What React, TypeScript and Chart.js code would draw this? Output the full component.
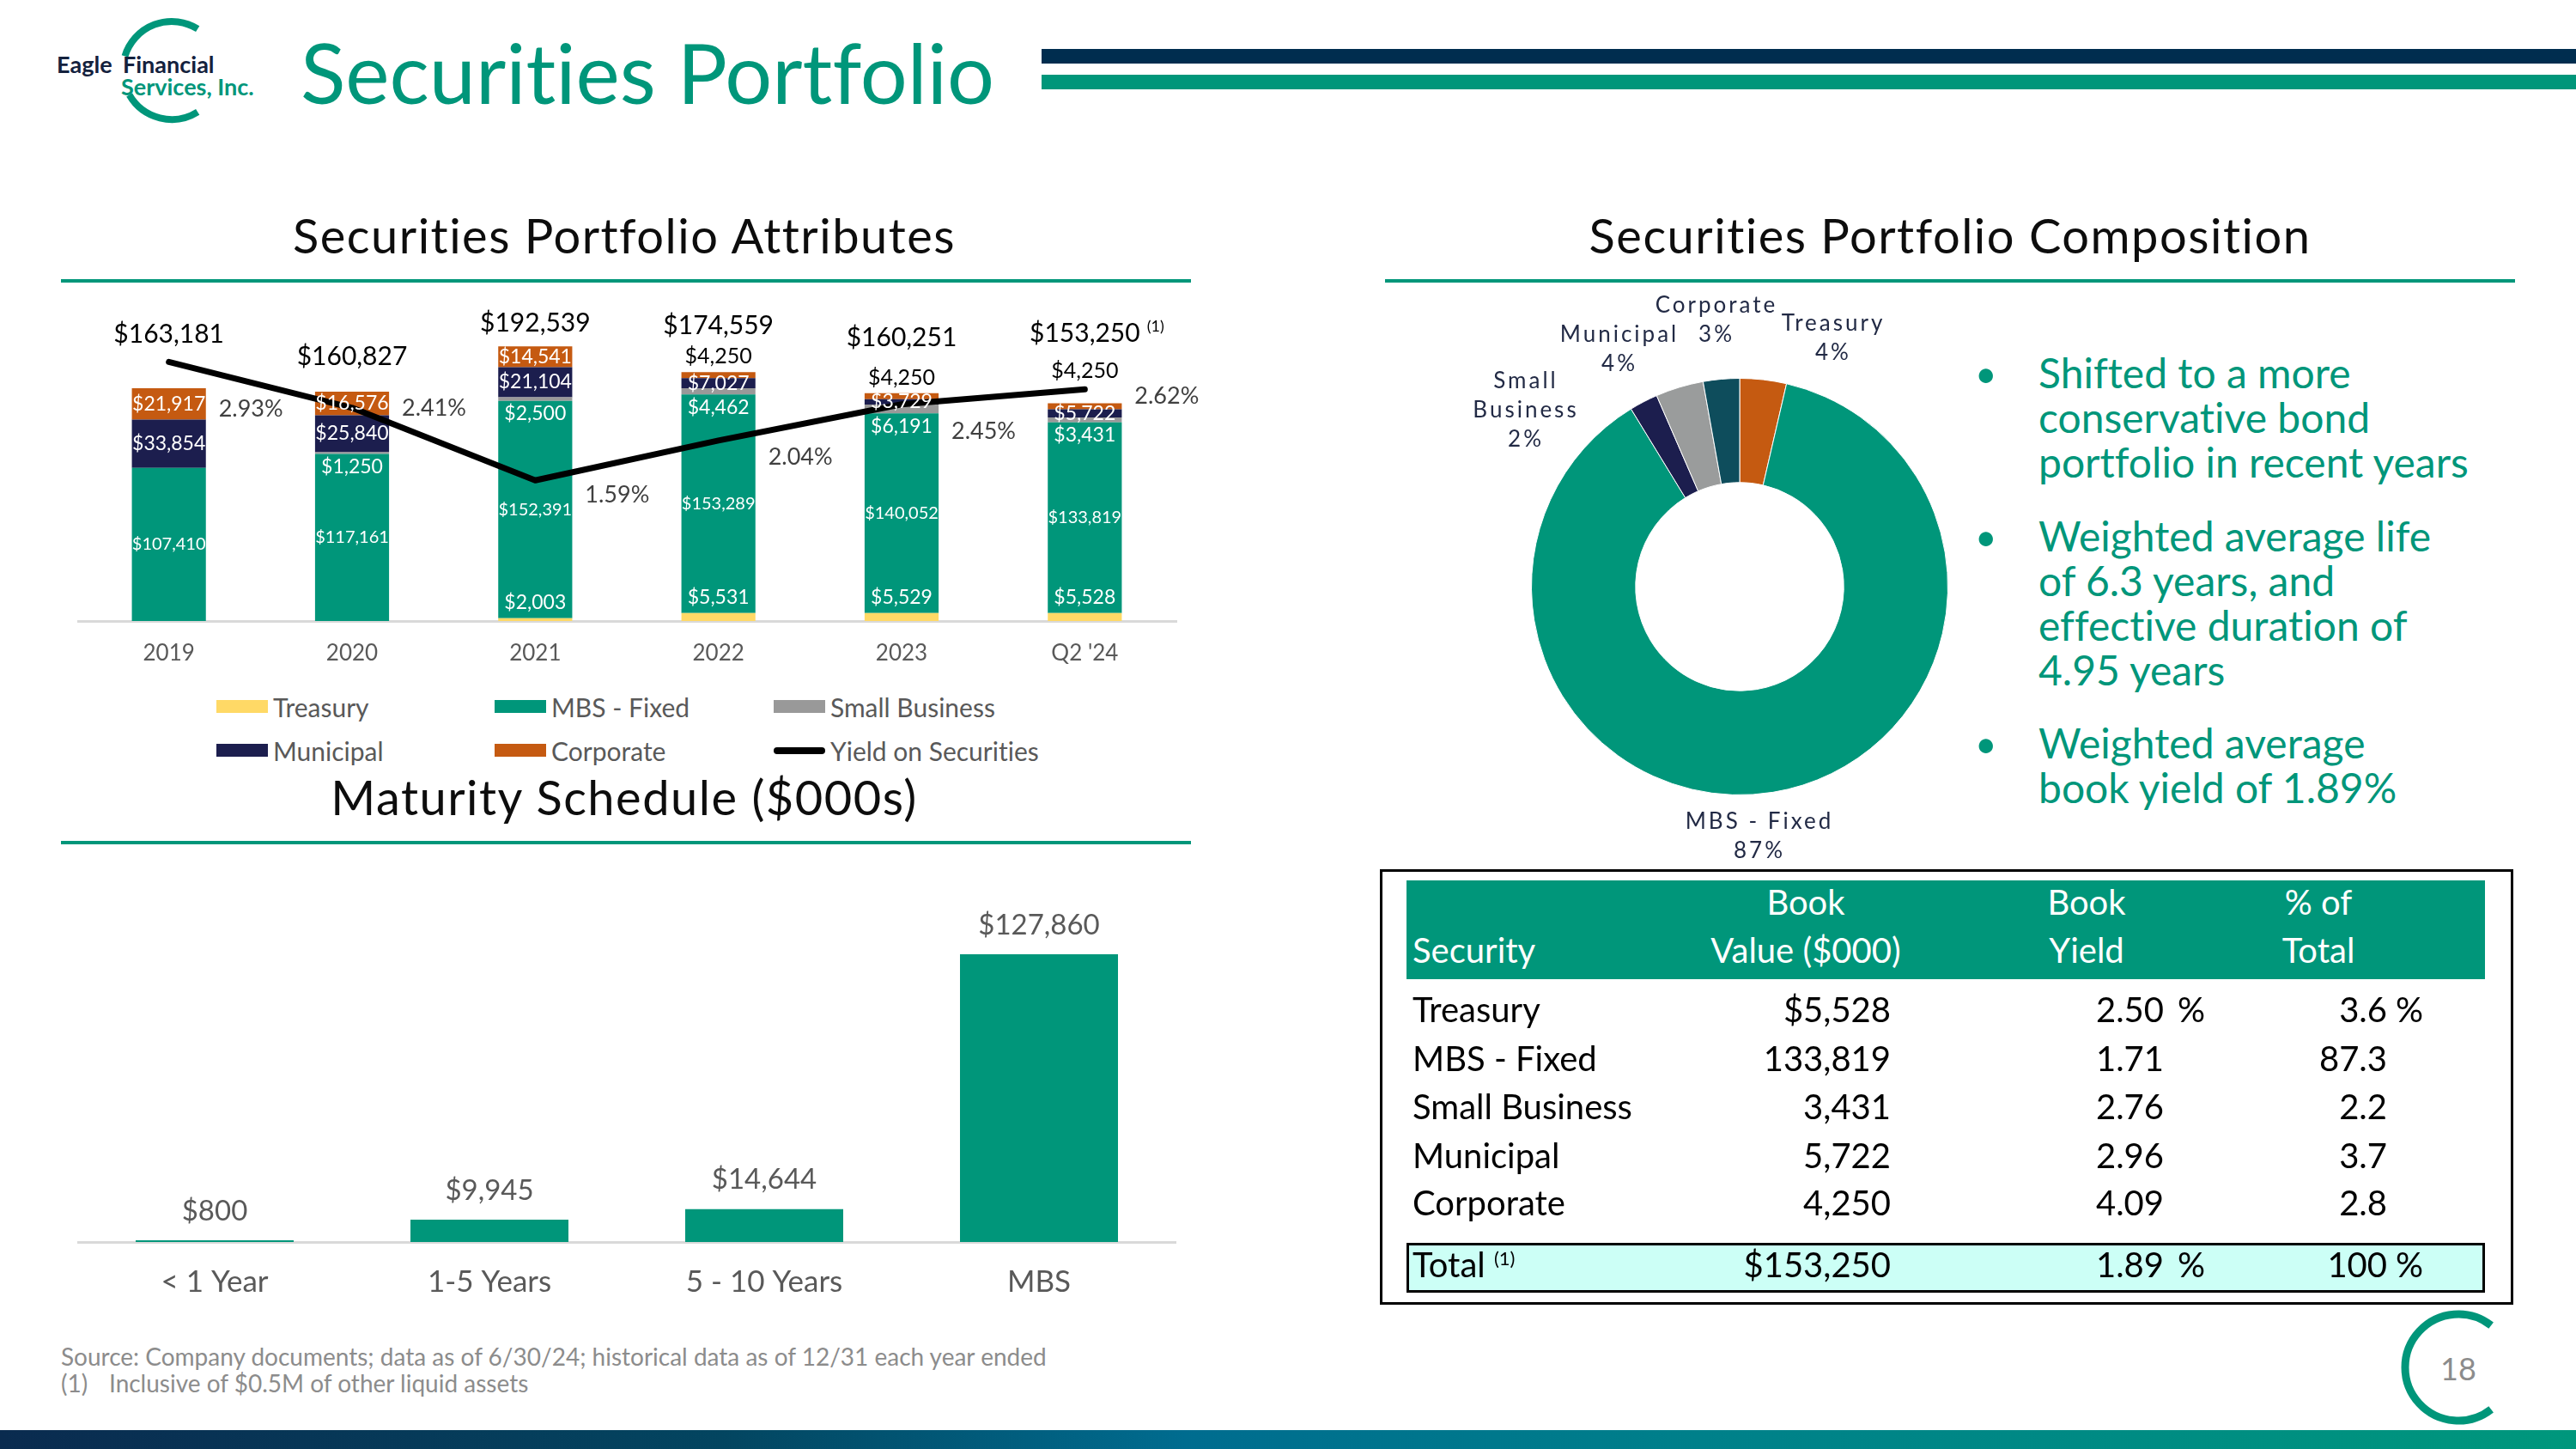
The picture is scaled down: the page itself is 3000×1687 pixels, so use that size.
import React, { useEffect, useRef } from 'react';
import { Chart, registerables } from 'chart.js';

Chart.register(...registerables);

const FONT = 'Lato, "Open Sans", "DejaVu Sans", sans-serif';
const GREEN = '#00967A';
const NAVY = '#1C1E4E';
const ORANGE = '#C55A11';
const YELLOW = '#FFD966';
const GRAY = '#999999';
const DARK_TEAL = '#0E4D5C';
const AXIS_GRAY = '#D9D9D9';
const LABEL_GRAY = '#595959';

// ---- Securities Portfolio Attributes ($000s) ----
const years = ['2019', '2020', '2021', '2022', '2023', "Q2 '24"];
const treasury = [0, 0, 2003, 5531, 5529, 5528];
const mbsFixed = [107410, 117161, 152391, 153289, 140052, 133819];
const smallBusiness = [0, 1250, 2500, 4462, 6191, 3431];
const municipal = [33854, 25840, 21104, 7027, 3729, 5722];
const corporate = [21917, 16576, 14541, 4250, 4250, 4250];
const portfolioTotals = [163181, 160827, 192539, 174559, 160251, 153250];
const totalNotes = ['', '', '', '', '', '(1)'];
const yieldOnSecurities = [2.93, 2.41, 1.59, 2.04, 2.45, 2.62];

// label placement tweaks (pixels)
const totalLabelLift = [63, 41, 27, 54, 64, 81];
const corporateLabelLift = [18, 18, 18, 18, 18, 37];
const yieldLabelDrop = [55, 0, 17, 19, 32, 8];

// ---- Maturity Schedule ($000s) ----
const maturityBuckets = ['< 1 Year', '1-5 Years', '5 - 10 Years', 'MBS'];
const maturityValues = [800, 9945, 14644, 127860];

// ---- Composition (Q2 '24) ----
const securities = ['Treasury', 'MBS - Fixed', 'Small Business', 'Municipal', 'Corporate'];
const bookValues = [5528, 133819, 3431, 5722, 4250];
const bookYields = [2.5, 1.71, 2.76, 2.96, 4.09];
const pctOfTotal = [3.6, 87.3, 2.2, 3.7, 2.8];
const totalBookValue = 153250;
const totalBookYield = 1.89;
const totalPct = 100;
const donutColors = [ORANGE, GREEN, NAVY, '#9A9C9C', DARK_TEAL];

const fmt = (v: number) => v.toLocaleString('en-US');
const money = (v: number) => '$' + fmt(v);

type Align = 'l' | 'c' | 'r';
interface TxtProps {
  x: number;
  y: number;
  size: number;
  align?: Align;
  color?: string;
  weight?: number;
  style?: React.CSSProperties;
  children: React.ReactNode;
}

function Txt({ x, y, size, align = 'l', color = '#000', weight = 400, style, children }: TxtProps) {
  const tx = align === 'l' ? '0' : align === 'c' ? '-50%' : '-100%';
  return (
    <div
      style={{
        position: 'absolute',
        left: x,
        top: y,
        transform: `translate(${tx}, -50%)`,
        fontSize: size,
        color,
        fontWeight: weight,
        lineHeight: 1.2,
        whiteSpace: 'nowrap',
        textAlign: align === 'l' ? 'left' : align === 'c' ? 'center' : 'right',
        ...style,
      }}
    >
      {children}
    </div>
  );
}

function Rect({ x, y, w, h, bg, style }: { x: number; y: number; w: number; h: number; bg: string; style?: React.CSSProperties }) {
  return <div style={{ position: 'absolute', left: x, top: y, width: w, height: h, background: bg, ...style }} />;
}

const attributeLabels = {
  id: 'attributeLabels',
  afterDatasetsDraw(chart: any) {
    const ctx = chart.ctx as CanvasRenderingContext2D;
    ctx.save();
    ctx.textAlign = 'center';
    ctx.textBaseline = 'middle';
    const bars = (i: number) => chart.getDatasetMeta(i).data as any[];
    const tre = bars(1), mbs = bars(2), sb = bars(3), mun = bars(4), cor = bars(5);
    const big = `23px ${FONT}`;
    for (let j = 0; j < years.length; j++) {
      ctx.fillStyle = '#FFFFFF';
      if (treasury[j] > 0) {
        ctx.font = big;
        ctx.fillText(money(treasury[j]), tre[j].x, tre[j].y - 18);
      }
      ctx.font = `20px ${FONT}`;
      ctx.fillText(money(mbsFixed[j]), mbs[j].x, (mbs[j].y + mbs[j].base) / 2);
      ctx.font = big;
      if (smallBusiness[j] > 0) {
        ctx.fillText(money(smallBusiness[j]), sb[j].x, sb[j].base + 15);
      }
      ctx.fillText(money(municipal[j]), mun[j].x, (mun[j].y + mun[j].base) / 2);
      const corH = cor[j].base - cor[j].y;
      if (corH >= 16) {
        ctx.fillText(money(corporate[j]), cor[j].x, (cor[j].y + cor[j].base) / 2);
      } else {
        ctx.fillStyle = '#000000';
        ctx.font = `25px ${FONT}`;
        ctx.fillText(money(corporate[j]), cor[j].x, cor[j].y - corporateLabelLift[j]);
      }
      // totals
      ctx.fillStyle = '#000000';
      ctx.font = `30px ${FONT}`;
      const ty = cor[j].y - totalLabelLift[j];
      const label = money(portfolioTotals[j]);
      ctx.fillText(label, cor[j].x, ty);
      if (totalNotes[j]) {
        const w = ctx.measureText(label).width;
        ctx.font = `18px ${FONT}`;
        ctx.textAlign = 'left';
        ctx.fillText(totalNotes[j], cor[j].x + w / 2 + 8, ty - 8);
        ctx.textAlign = 'center';
      }
    }
    // yield labels
    const pts = chart.getDatasetMeta(0).data as any[];
    ctx.textAlign = 'left';
    ctx.fillStyle = '#404040';
    ctx.font = `27px ${FONT}`;
    pts.forEach((p, j) => {
      ctx.fillText(yieldOnSecurities[j].toFixed(2) + '%', p.x + 58, p.y + yieldLabelDrop[j]);
    });
    ctx.restore();
  },
};

const maturityLabels = {
  id: 'maturityLabels',
  afterDatasetsDraw(chart: any) {
    const ctx = chart.ctx as CanvasRenderingContext2D;
    ctx.save();
    ctx.textAlign = 'center';
    ctx.textBaseline = 'middle';
    ctx.fillStyle = LABEL_GRAY;
    ctx.font = `33px ${FONT}`;
    (chart.getDatasetMeta(0).data as any[]).forEach((b, j) => {
      ctx.fillText(money(maturityValues[j]), b.x, b.y - 34);
    });
    ctx.restore();
  },
};

function AttributesChart() {
  const ref = useRef<HTMLCanvasElement>(null);
  useEffect(() => {
    if (!ref.current) return;
    const barDs = (label: string, data: number[], color: string) => ({
      type: 'bar' as const,
      label,
      data,
      backgroundColor: color,
      borderWidth: 0,
      yAxisID: 'y',
      order: 1,
      barPercentage: 0.404,
      categoryPercentage: 1,
    });
    const chart = new Chart(ref.current, {
      type: 'bar',
      data: {
        labels: years,
        datasets: [
          {
            type: 'line' as const,
            label: 'Yield on Securities',
            data: yieldOnSecurities,
            borderColor: '#000000',
            borderWidth: 7,
            pointRadius: 0,
            tension: 0,
            borderCapStyle: 'round',
            borderJoinStyle: 'round',
            yAxisID: 'y1',
            order: 0,
          } as any,
          barDs('Treasury', treasury, YELLOW),
          barDs('MBS - Fixed', mbsFixed, GREEN),
          barDs('Small Business', smallBusiness, GRAY),
          barDs('Municipal', municipal, NAVY),
          barDs('Corporate', corporate, ORANGE),
        ],
      },
      options: {
        responsive: false,
        animation: false,
        layout: { padding: { top: 12, left: 0, right: 100, bottom: 0 } },
        plugins: { legend: { display: false }, tooltip: { enabled: false } },
        scales: {
          x: {
            stacked: true,
            grid: { display: false, drawTicks: false },
            border: { display: true, color: AXIS_GRAY, width: 3 },
            ticks: { color: LABEL_GRAY, font: { size: 26, family: FONT }, padding: 22 },
            afterFit: (s: any) => {
              s.height = 60;
            },
          },
          y: { stacked: true, display: false, min: 0, max: 229500 },
          y1: { display: false, min: 0, max: 3.7, position: 'right' },
        },
      },
      plugins: [attributeLabels],
    });
    return () => chart.destroy();
  }, []);
  return <canvas ref={ref} width={1380} height={453} style={{ position: 'absolute', left: 90, top: 330 }} />;
}

function MaturityChart() {
  const ref = useRef<HTMLCanvasElement>(null);
  useEffect(() => {
    if (!ref.current) return;
    const chart = new Chart(ref.current, {
      type: 'bar',
      data: {
        labels: maturityBuckets,
        datasets: [
          {
            label: 'Maturity',
            data: maturityValues,
            backgroundColor: GREEN,
            borderWidth: 0,
            barPercentage: 0.575,
            categoryPercentage: 1,
          },
        ],
      },
      options: {
        responsive: false,
        animation: false,
        layout: { padding: { top: 13, left: 0, right: 0, bottom: 0 } },
        plugins: { legend: { display: false }, tooltip: { enabled: false } },
        scales: {
          x: {
            grid: { display: false, drawTicks: false },
            border: { display: true, color: AXIS_GRAY, width: 3 },
            ticks: { color: LABEL_GRAY, font: { size: 35, family: FONT }, padding: 26 },
            afterFit: (s: any) => {
              s.height = 70;
            },
          },
          y: { display: false, min: 0, max: 150000 },
        },
      },
      plugins: [maturityLabels],
    });
    return () => chart.destroy();
  }, []);
  return <canvas ref={ref} width={1280} height={476} style={{ position: 'absolute', left: 90, top: 1040 }} />;
}

function CompositionDonut() {
  const ref = useRef<HTMLCanvasElement>(null);
  useEffect(() => {
    if (!ref.current) return;
    const chart = new Chart(ref.current, {
      type: 'doughnut',
      data: {
        labels: securities,
        datasets: [
          {
            data: pctOfTotal,
            backgroundColor: donutColors,
            borderColor: '#FFFFFF',
            borderWidth: 1,
          },
        ],
      },
      options: {
        responsive: false,
        animation: false,
        cutout: '50%',
        layout: { padding: { left: 83, right: 83, top: 100, bottom: 100 } },
        plugins: { legend: { display: false }, tooltip: { enabled: false } },
      },
    });
    return () => chart.destroy();
  }, []);
  return <canvas ref={ref} width={652} height={686} style={{ position: 'absolute', left: 1700, top: 340 }} />;
}

// donut label anchors (text block centres) and line breaks
const donutLabelSpots = [
  { x: 2135, y: 392, lines: ['Treasury'] },
  { x: 2049, y: 972, lines: ['MBS - Fixed'] },
  { x: 1777, y: 476, lines: ['Small', 'Business'] },
  { x: 1886, y: 405, lines: ['Municipal'] },
  { x: 1999, y: 371, lines: ['Corporate'] },
];

function Arc({ cx, cy, r, from, to, width }: { cx: number; cy: number; r: number; from: number; to: number; width: number }) {
  // angles in degrees, screen coords, drawn counter-clockwise from `from` to `to`
  const rad = (d: number) => (d * Math.PI) / 180;
  const x1 = cx + r * Math.cos(rad(from));
  const y1 = cy + r * Math.sin(rad(from));
  const x2 = cx + r * Math.cos(rad(to));
  const y2 = cy + r * Math.sin(rad(to));
  const sweep = (from - to + 360) % 360;
  const large = sweep > 180 ? 1 : 0;
  return <path d={`M ${x1} ${y1} A ${r} ${r} 0 ${large} 0 ${x2} ${y2}`} fill="none" stroke={GREEN} strokeWidth={width} />;
}

const sectionTitle: React.CSSProperties = { letterSpacing: 1.5 };

export default function App() {
  const rowY = [1175, 1232, 1288, 1345, 1400];
  return (
    <div
      style={{
        position: 'absolute',
        left: 0,
        top: 0,
        width: 3000,
        height: 1687,
        background: '#FFFFFF',
        overflow: 'hidden',
        fontFamily: FONT,
        fontVariantLigatures: 'none',
        fontFeatureSettings: '"liga" 0, "clig" 0',
      }}
    >
      {/* decorative arcs */}
      <svg width={3000} height={1687} style={{ position: 'absolute', left: 0, top: 0 }}>
        <Arc cx={200} cy={82} r={57} from={-58} to={-163} width={8} />
        <Arc cx={200} cy={82} r={57} from={150} to={58} width={8} />
        <Arc cx={2863} cy={1592} r={62} from={-52} to={52} width={9} />
      </svg>

      {/* logo */}
      <Txt x={66} y={75} size={27} weight={700} color="#14213D">Eagle</Txt>
      <Txt x={143} y={75} size={27} weight={700} color="#14213D">Financial</Txt>
      <Txt x={141} y={101} size={27} weight={700} color={GREEN}>Services, Inc.</Txt>

      {/* page title and header stripes */}
      <Txt x={350} y={84} size={97} color={GREEN}>Securities Portfolio</Txt>
      <Rect x={1213} y={57} w={1787} h={17} bg="#002D4F" />
      <Rect x={1213} y={87} w={1787} h={17} bg={GREEN} />

      {/* section titles */}
      <Txt x={727} y={274} size={56} align="c" color="#0D0D0D" style={sectionTitle}>Securities Portfolio Attributes</Txt>
      <Rect x={71} y={325} w={1316} h={4} bg={GREEN} />
      <Txt x={2271} y={274} size={56} align="c" color="#0D0D0D" style={sectionTitle}>Securities Portfolio Composition</Txt>
      <Rect x={1613} y={325} w={1316} h={4} bg={GREEN} />
      <Txt x={727} y={928} size={56} align="c" color="#0D0D0D" style={sectionTitle}>Maturity Schedule ($000s)</Txt>
      <Rect x={71} y={979} w={1316} h={4} bg={GREEN} />

      <AttributesChart />

      {/* legend */}
      {[
        { x: 252, y: 823, c: YELLOW, t: 'Treasury' },
        { x: 576, y: 823, c: GREEN, t: 'MBS - Fixed' },
        { x: 901, y: 823, c: GRAY, t: 'Small Business' },
        { x: 252, y: 874, c: NAVY, t: 'Municipal' },
        { x: 576, y: 874, c: ORANGE, t: 'Corporate' },
      ].map((it) => (
        <React.Fragment key={it.t}>
          <Rect x={it.x} y={it.y - 8} w={60} h={15} bg={it.c} />
          <Txt x={it.x + 66} y={it.y} size={30} color={LABEL_GRAY}>{it.t}</Txt>
        </React.Fragment>
      ))}
      <Rect x={901} y={870} w={60} h={8} bg="#000" style={{ borderRadius: 4 }} />
      <Txt x={967} y={874} size={30} color={LABEL_GRAY}>Yield on Securities</Txt>

      <MaturityChart />

      <CompositionDonut />
      {donutLabelSpots.map((s, i) => (
        <Txt
          key={securities[i]}
          x={s.x}
          y={s.y}
          size={26}
          align="c"
          color="#222A45"
          style={{ letterSpacing: 3, lineHeight: '34px' }}
        >
          {s.lines.map((l) => (
            <div key={l}>{l}</div>
          ))}
          <div>{Math.round(pctOfTotal[i])}%</div>
        </Txt>
      ))}

      {/* bullets */}
      {[
        { y: 434, lines: ['Shifted to a more', 'conservative bond', 'portfolio in recent years'] },
        { y: 624, lines: ['Weighted average life', 'of 6.3 years, and', 'effective duration of', '4.95 years'] },
        { y: 865, lines: ['Weighted average', 'book yield of 1.89%'] },
      ].map((b) => (
        <React.Fragment key={b.y}>
          <Txt x={2300} y={b.y} size={44} color={GREEN}>•</Txt>
          <div
            style={{
              position: 'absolute',
              left: 2374,
              top: b.y - 26,
              fontSize: 48,
              lineHeight: '52px',
              color: GREEN,
              whiteSpace: 'nowrap',
            }}
          >
            {b.lines.map((l) => (
              <div key={l}>{l}</div>
            ))}
          </div>
        </React.Fragment>
      ))}

      {/* composition table */}
      <div style={{ position: 'absolute', left: 1607, top: 1012, width: 1314, height: 501, border: '3px solid #000' }} />
      <Rect x={1638} y={1025} w={1256} h={115} bg={GREEN} />
      <Txt x={1645} y={1106} size={40} color="#FFF">Security</Txt>
      <Txt x={2103} y={1050} size={40} align="c" color="#FFF">Book</Txt>
      <Txt x={2103} y={1106} size={40} align="c" color="#FFF">Value ($000)</Txt>
      <Txt x={2430} y={1050} size={40} align="c" color="#FFF">Book</Txt>
      <Txt x={2430} y={1106} size={40} align="c" color="#FFF">Yield</Txt>
      <Txt x={2700} y={1050} size={40} align="c" color="#FFF">% of</Txt>
      <Txt x={2700} y={1106} size={40} align="c" color="#FFF">Total</Txt>
      {securities.map((s, i) => (
        <React.Fragment key={s}>
          <Txt x={1645} y={rowY[i]} size={40}>{s}</Txt>
          <Txt x={2202} y={rowY[i]} size={40} align="r">{i === 0 ? money(bookValues[i]) : fmt(bookValues[i])}</Txt>
          <Txt x={2520} y={rowY[i]} size={40} align="r">{bookYields[i].toFixed(2)}</Txt>
          {i === 0 && <Txt x={2536} y={rowY[i]} size={40}>%</Txt>}
          <Txt x={2780} y={rowY[i]} size={40} align="r">{pctOfTotal[i].toFixed(1)}</Txt>
          {i === 0 && <Txt x={2790} y={rowY[i]} size={40}>%</Txt>}
        </React.Fragment>
      ))}
      <div
        style={{
          position: 'absolute',
          left: 1638,
          top: 1447,
          width: 1250,
          height: 52,
          background: '#CCFFF6',
          border: '3px solid #000',
        }}
      />
      <Txt x={1645} y={1472} size={40}>
        Total <sup style={{ fontSize: 22 }}>(1)</sup>
      </Txt>
      <Txt x={2202} y={1472} size={40} align="r">{money(totalBookValue)}</Txt>
      <Txt x={2520} y={1472} size={40} align="r">{totalBookYield.toFixed(2)}</Txt>
      <Txt x={2536} y={1472} size={40}>%</Txt>
      <Txt x={2780} y={1472} size={40} align="r">{totalPct}</Txt>
      <Txt x={2790} y={1472} size={40}>%</Txt>

      {/* footnotes */}
      <Txt x={71} y={1580} size={28} color="#8C8C8C">
        Source: Company documents; data as of 6/30/24; historical data as of 12/31 each year ended
      </Txt>
      <Txt x={71} y={1611} size={28} color="#8C8C8C">(1)</Txt>
      <Txt x={127} y={1611} size={28} color="#8C8C8C">Inclusive of $0.5M of other liquid assets</Txt>

      <Txt x={2863} y={1594} size={36} align="c" color="#8C8C8C">18</Txt>

      {/* bottom band */}
      <Rect
        x={0}
        y={1665}
        w={3000}
        h={22}
        bg="linear-gradient(90deg, #0A2B4F 0%, #034560 28%, #006C8F 46%, #00808A 66%, #00977C 100%)"
      />
    </div>
  );
}
